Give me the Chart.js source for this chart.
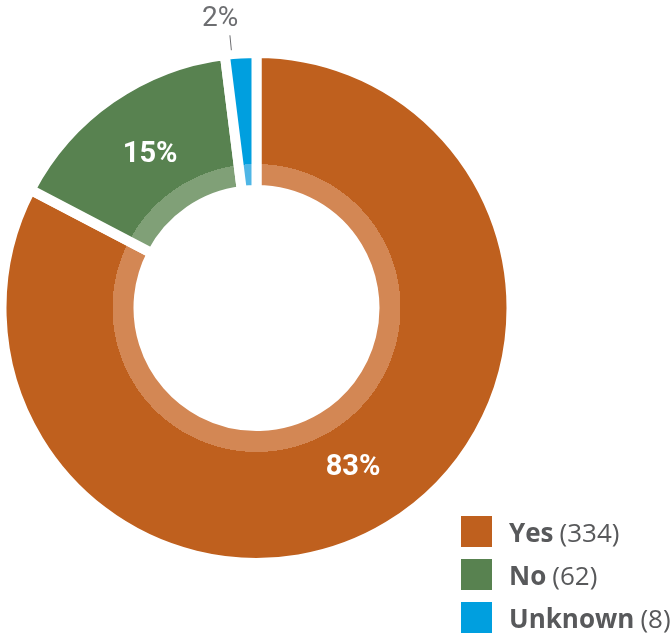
<!DOCTYPE html>
<html lang="en">
<head>
  <meta charset="UTF-8">
  <title>Yes / No / Unknown</title>
  <script src="https://cdn.jsdelivr.net/npm/chart.js"></script>
  <style>
    body {
      margin: 0;
      background: #ffffff;
      font-family: 'Open Sans', sans-serif;
    }
    .wrap {
      position: relative;
      width: 670px;
      height: 637px;
    }
    .legend {
      position: absolute;
      left: 461px;
      top: 516px;
    }
    .legend .row {
      display: flex;
      align-items: center;
      height: 31px;
      margin-bottom: 12px;
      white-space: nowrap;
      color: #58595b;
      font-size: 26px;
    }
    .legend .box {
      width: 31px;
      height: 31px;
      margin-right: 17px;
    }
    .legend b { font-weight: 700; margin-right: 6px; }
    .legend span.n { font-weight: 400; }
  </style>
</head>
<body>
  <div class="wrap">
    <canvas id="donut" width="670" height="637"></canvas>
    <div class="legend" id="legend"></div>
  </div>

  <script>
    const categories = ['Yes', 'No', 'Unknown'];
    const counts = [334, 62, 8];
    const darkColors = ['#bf601e', '#588250', '#009fdf'];
    const lightColors = ['#d38754', '#80a077', '#4fb6e6'];

    const OUTER = 255;   // includes half of the white border
    const INNER = 118;
    const BAND = 144;    // where the light inner band ends

    const total = counts.reduce((a, b) => a + b, 0);

    // legend
    const legend = document.getElementById('legend');
    categories.forEach((name, i) => {
      const row = document.createElement('div');
      row.className = 'row';
      row.innerHTML = '<div class="box" style="background:' + darkColors[i] + '"></div>' +
        '<b>' + name + '</b><span class="n">(' + counts[i] + ')</span>';
      legend.appendChild(row);
    });

    // two-tone fill: light near the hole, dark outside
    function ringFill(c) {
      const area = c.chart.chartArea;
      const i = c.dataIndex;
      if (!area) return darkColors[i];
      const cx = (area.left + area.right) / 2;
      const cy = (area.top + area.bottom) / 2;
      const g = c.chart.ctx.createRadialGradient(cx, cy, 0, cx, cy, OUTER);
      g.addColorStop(0, lightColors[i]);
      g.addColorStop(BAND / OUTER, lightColors[i]);
      g.addColorStop(BAND / OUTER, darkColors[i]);
      g.addColorStop(1, darkColors[i]);
      return g;
    }

    const sliceLabels = {
      id: 'sliceLabels',
      afterDatasetsDraw(chart) {
        const ctx = chart.ctx;
        const meta = chart.getDatasetMeta(0);
        ctx.save();
        ctx.textAlign = 'center';
        ctx.textBaseline = 'middle';
        meta.data.forEach((arc, i) => {
          const pct = Math.round(counts[i] / total * 100) + '%';
          const share = counts[i] / total;
          const mid = (arc.startAngle + arc.endAngle) / 2;
          if (share >= 0.05) {
            const p = arc.getCenterPoint();
            ctx.fillStyle = '#ffffff';
            ctx.font = 'bold 29px Roboto';
            ctx.fillText(pct, p.x, p.y);
          } else {
            // small slice: label outside with a short leader
            const a = mid - 0.035;
            const r = arc.outerRadius;
            ctx.strokeStyle = '#6d6e71';
            ctx.lineWidth = 1;
            ctx.beginPath();
            ctx.moveTo(arc.x + Math.cos(a) * (r + 4), arc.y + Math.sin(a) * (r + 4));
            ctx.lineTo(arc.x + Math.cos(a) * (r + 19), arc.y + Math.sin(a) * (r + 19));
            ctx.stroke();
            const ta = mid - 0.063;
            ctx.fillStyle = '#6d6e71';
            ctx.font = '28px Roboto';
            ctx.fillText(pct, arc.x + Math.cos(ta) * (r + 36), arc.y + Math.sin(ta) * (r + 36));
          }
        });
        ctx.restore();
      }
    };

    new Chart(document.getElementById('donut'), {
      type: 'doughnut',
      data: {
        labels: categories,
        datasets: [{
          data: counts,
          backgroundColor: ringFill,
          borderColor: '#ffffff',
          borderWidth: 10,
          borderJoinStyle: 'miter',
          hoverOffset: 0
        }]
      },
      options: {
        responsive: false,
        animation: false,
        events: [],
        radius: OUTER,
        cutout: (INNER / OUTER * 100) + '%',
        layout: { padding: { left: 0, top: 0, right: 157, bottom: 21 } },
        plugins: {
          legend: { display: false },
          tooltip: { enabled: false }
        }
      },
      plugins: [sliceLabels]
    });
  </script>
</body>
</html>
